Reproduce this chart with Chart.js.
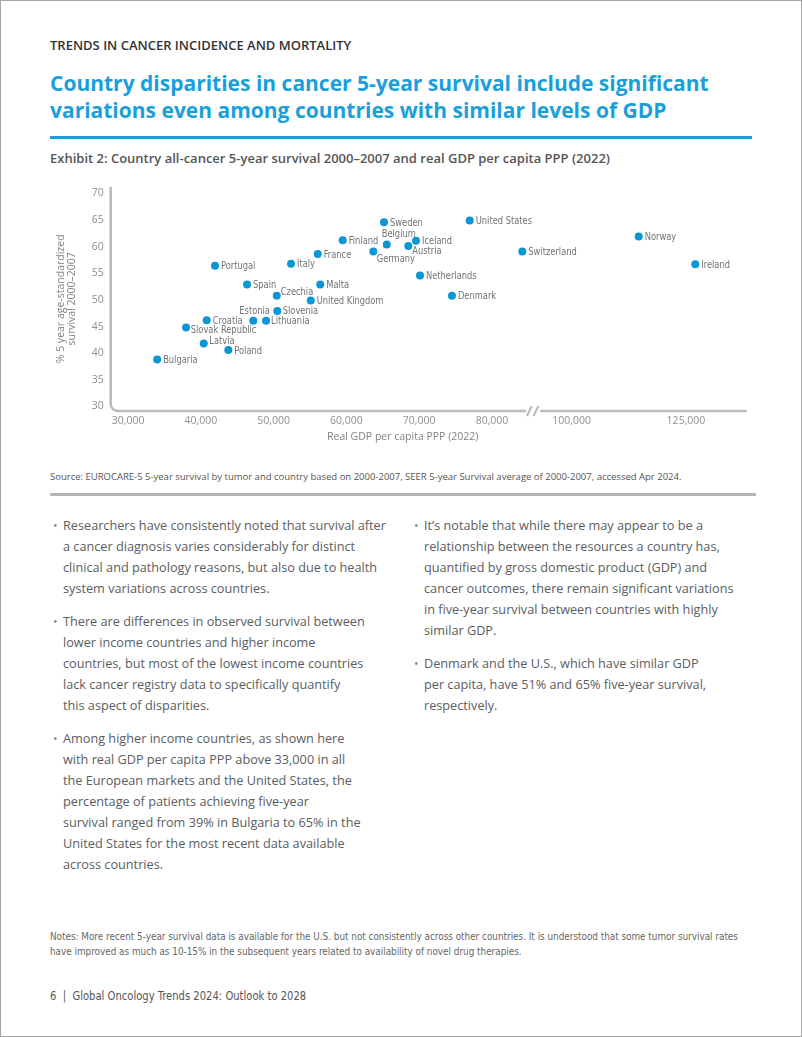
<!DOCTYPE html>
<html>
<head>
<meta charset="utf-8">
<script src="https://cdn.jsdelivr.net/npm/chart.js@4.4.1/dist/chart.umd.min.js"></script>
<style>
    html, body { margin: 0; padding: 0; background: #fff; }
    body { width: 802px; height: 1037px; position: relative; overflow: hidden; font-family: "Open Sans", "Noto Sans", sans-serif; }
    .frame { position: absolute; left: 0; top: 0; width: 800px; height: 1035px; border: 1px solid #a6a6a6; }
    .abs { position: absolute; white-space: nowrap; }
    .kicker { left: 50px; top: 37px; font-size: 13px; line-height: 17px; font-weight: 600; color: #333; }
    .title { left: 50px; top: 70px; font-size: 21px; line-height: 26.7px; font-weight: 700; color: #1a9fdb; }
    .rule { left: 50px; top: 136px; width: 702px; height: 3px; background: #1a9fdb; }
    .exhibit { left: 50px; top: 149.5px; font-size: 13px; line-height: 17px; font-weight: 600; color: #555; }
    .xtitle { left: 327px; top: 429px; font-size: 10.5px; line-height: 14px; color: #808285; }
    .source { left: 50px; top: 471px; font-size: 9.5px; line-height: 12px; color: #555; }
    .sep { left: 50px; top: 493px; width: 706px; height: 2.5px; background: #b4b4b4; }
    .col { position: absolute; top: 515px; font-size: 12.7px; line-height: 21px; color: #5a5d61; white-space: nowrap; }
    .col p { margin: 0 0 12px 0; position: relative; }
    .col p::before { content: "\2022"; position: absolute; left: -10px; top: 0; font-size: 12px; color: #888; }
    .narrow { font-family: "Liberation Sans Narrow", "DejaVu Sans Condensed", sans-serif; transform-origin: 0 50%; }
    .notes { left: 50px; top: 929px; font-size: 10.5px; line-height: 15.3px; color: #666; transform: scaleX(0.936); }
    .footer { left: 50px; top: 987px; font-size: 12.5px; line-height: 17px; color: #555; transform: scaleX(0.89); }
    #wrap { position: absolute; left: 0; top: 170px; width: 802px; height: 280px; }
</style>
</head>
<body>
<div class="frame"></div>
<div class="abs kicker">TRENDS IN CANCER INCIDENCE AND MORTALITY</div>
<div class="abs title">Country disparities in cancer 5-year survival include significant<br>variations even among countries with similar levels of GDP</div>
<div class="abs rule"></div>
<div class="abs exhibit">Exhibit 2: Country all-cancer 5-year survival 2000–2007 and real GDP per capita PPP (2022)</div>

<div id="wrap"><canvas id="scatterChart" width="802" height="280"></canvas></div>
<div class="abs xtitle">Real GDP per capita PPP (2022)</div>

<div class="abs source">Source: EUROCARE-5 5-year survival by tumor and country based on 2000-2007, SEER 5-year Survival average of 2000-2007, accessed Apr 2024.</div>
<div class="abs sep"></div>

<div class="col" style="left:63px;">
    <p>Researchers have consistently noted that survival after<br>a cancer diagnosis varies considerably for distinct<br>clinical and pathology reasons, but also due to health<br>system variations across countries.</p>
    <p>There are differences in observed survival between<br>lower income countries and higher income<br>countries, but most of the lowest income countries<br>lack cancer registry data to specifically quantify<br>this aspect of disparities.</p>
    <p>Among higher income countries, as shown here<br>with real GDP per capita PPP above 33,000 in all<br>the European markets and the United States, the<br>percentage of patients achieving five-year<br>survival ranged from 39% in Bulgaria to 65% in the<br>United States for the most recent data available<br>across countries.</p>
</div>
<div class="col" style="left:424px;">
    <p>It’s notable that while there may appear to be a<br>relationship between the resources a country has,<br>quantified by gross domestic product (GDP) and<br>cancer outcomes, there remain significant variations<br>in five-year survival between countries with highly<br>similar GDP.</p>
    <p>Denmark and the U.S., which have similar GDP<br>per capita, have 51% and 65% five-year survival,<br>respectively.</p>
</div>

<div class="abs narrow notes">Notes: More recent 5-year survival data is available for the U.S. but not consistently across other countries. It is understood that some tumor survival rates<br>have improved as much as 10-15% in the subsequent years related to availability of novel drug therapies.</div>
<div class="abs narrow footer">6 &nbsp;|&nbsp; Global Oncology Trends 2024: Outlook to 2028</div>

<script>
const countries = ['Bulgaria', 'Slovak Republic', 'Latvia', 'Poland', 'Croatia', 'Portugal', 'Spain', 'Estonia',
    'Lithuania', 'Slovenia', 'Czechia', 'Italy', 'France', 'United Kingdom', 'Malta', 'Finland', 'Germany',
    'Belgium', 'Sweden', 'Austria', 'Iceland', 'Netherlands', 'Denmark', 'United States', 'Switzerland',
    'Norway', 'Ireland'];
const gdpPerCapita = [34000, 37970, 40400, 43780, 40810, 41950, 46350, 47210,
    48960, 50510, 50430, 52390, 56060, 55100, 56410, 59490, 63700,
    65540, 65160, 68500, 69560, 70110, 74500, 76940, 84160,
    114650, 127030];
const survival = [38.8, 44.8, 41.8, 40.6, 46.2, 56.4, 52.9, 46.1,
    46.1, 47.9, 50.8, 56.8, 58.6, 49.9, 52.9, 61.2, 59.1,
    60.4, 64.6, 60.1, 61.1, 54.6, 50.8, 64.9, 59.1,
    61.9, 56.7];

const xTickValues = [30000, 40000, 50000, 60000, 70000, 80000, 100000, 125000];
const xTickLabels = ['30,000', '40,000', '50,000', '60,000', '70,000', '80,000', '100,000', '125,000'];
const yTickValues = [30, 35, 40, 45, 50, 55, 60, 65, 70];

// broken x axis: above the break the scale is squeezed
const breakAt = 88000;
function toAxis(g) {
    if (g <= breakAt) return g;
    return 90950 + (g - 100000) * 0.628;
}

// where each label sits relative to its dot (default: right of it)
const labelPlacement = {
    'Estonia': { dx: 1.3, dy: -9.7, align: 'center' },
    'Belgium': { dx: -5, dy: -10 },
    'Germany': { dx: 3.4, dy: 7.3 },
    'Austria': { dx: 4, dy: 4.7 },
    'Slovak Republic': { dx: 4.7, dy: 3 },
    'Latvia': { dx: 5.6, dy: -2 },
    'Czechia': { dx: 4, dy: -3.7 },
    'Slovenia': { dx: 5.4, dy: 0.4 },
    'Lithuania': { dx: 5, dy: 0.3 },
};

const labelFont = '11px "Liberation Sans Narrow", "DejaVu Sans Condensed", sans-serif';
const labelSquash = 0.84;
const axisColor = '#b8babd';

const pointLabels = {
    id: 'pointLabels',
    afterDatasetsDraw(chart) {
        const ctx = chart.ctx;
        const meta = chart.getDatasetMeta(0);
        meta.data.forEach(function (pt, i) {
            const p = labelPlacement[countries[i]] || { dx: 6, dy: 0.8 };
            ctx.save();
            ctx.font = labelFont;
            ctx.fillStyle = '#6f7276';
            ctx.textBaseline = 'middle';
            ctx.textAlign = p.align || 'left';
            ctx.translate(pt.x + p.dx, pt.y + p.dy);
            ctx.scale(labelSquash, 1);
            ctx.fillText(countries[i], 0, 0);
            ctx.restore();
        });
    }
};

const brokenAxes = {
    id: 'brokenAxes',
    beforeDatasetsDraw(chart) {
        const ctx = chart.ctx;
        const a = chart.chartArea;
        const xs = chart.scales.x;
        const gapL = xs.getPixelForValue(84700);
        const gapR = xs.getPixelForValue(86600);
        const r = 7;
        ctx.save();
        ctx.strokeStyle = axisColor;
        ctx.lineWidth = 2.5;
        ctx.beginPath();
        ctx.moveTo(a.left, a.top);
        ctx.lineTo(a.left, a.bottom - r);
        ctx.arcTo(a.left, a.bottom, a.left + r, a.bottom, r);
        ctx.lineTo(gapL, a.bottom);
        ctx.moveTo(gapR, a.bottom);
        ctx.lineTo(a.right, a.bottom);
        ctx.stroke();
        // the two slashes
        ctx.lineWidth = 2;
        ctx.beginPath();
        ctx.moveTo(gapL + 0.7, a.bottom + 5);
        ctx.lineTo(gapL + 5.7, a.bottom - 5);
        ctx.moveTo(gapL + 7.3, a.bottom + 5);
        ctx.lineTo(gapL + 12.3, a.bottom - 5);
        ctx.stroke();
        ctx.restore();
    }
};

const ctx = document.getElementById('scatterChart').getContext('2d');
const chart = new Chart(ctx, {
    type: 'scatter',
    data: {
        datasets: [{
            label: 'Countries',
            data: gdpPerCapita.map(function (g, i) { return { x: toAxis(g), y: survival[i] }; }),
            backgroundColor: '#0b97d6',
            borderWidth: 0,
            pointRadius: 4,
            pointHoverRadius: 4
        }]
    },
    options: {
        responsive: false,
        animation: false,
        layout: { padding: { top: 16.7, right: 55.3, bottom: 9, left: 0 } },
        plugins: {
            legend: { display: false },
            tooltip: { enabled: false }
        },
        scales: {
            x: {
                type: 'linear',
                min: 27620,
                max: 114990,
                grid: { display: false, drawTicks: false },
                border: { display: false },
                afterBuildTicks: function (scale) {
                    scale.ticks = xTickValues.map(function (v) { return { value: toAxis(v) }; });
                },
                afterFit: function (scale) { scale.height = 30; },
                ticks: {
                    autoSkip: false,
                    maxRotation: 0,
                    padding: 4,
                    color: '#8c8f93',
                    font: { family: '"Open Sans", "Noto Sans", sans-serif', size: 10.5 },
                    callback: function (value, index) { return xTickLabels[index]; }
                }
            },
            y: {
                min: 29.15,
                max: 71.25,
                grid: { display: false, drawTicks: false },
                border: { display: false },
                afterBuildTicks: function (scale) {
                    scale.ticks = yTickValues.map(function (v) { return { value: v }; });
                },
                afterFit: function (scale) { scale.width = 110.7; },
                ticks: {
                    padding: 7,
                    color: '#8c8f93',
                    font: { family: '"Open Sans", "Noto Sans", sans-serif', size: 10.5 }
                },
                title: {
                    display: true,
                    text: ['% 5 year age-standardized', 'survival 2000–2007'],
                    color: '#808285',
                    padding: { top: 55.2, bottom: 0 },
                    font: { family: '"Open Sans", "Noto Sans", sans-serif', size: 10.5, lineHeight: 1.05 }
                }
            }
        }
    },
    plugins: [brokenAxes, pointLabels]
});
</script>
</body>
</html>
